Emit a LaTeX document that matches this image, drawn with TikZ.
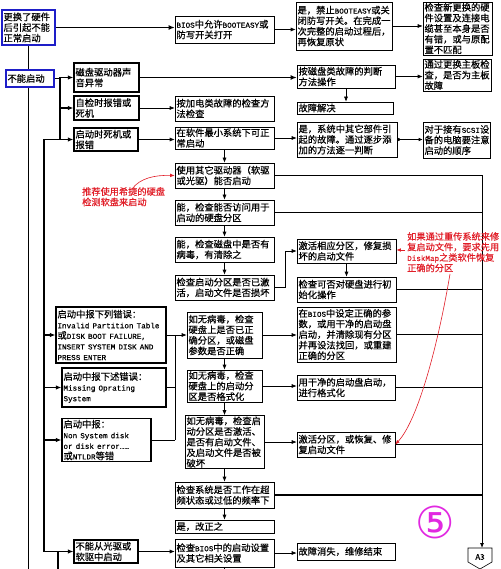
\documentclass[tikz,border=0pt]{standalone}
\usepackage{fontspec}
\setmainfont{Noto Sans CJK SC}[FakeBold=0.4]
\newfontfamily\hwf{Liberation Mono}[FakeBold=0.3]
\newfontfamily\djv{DejaVu Sans}
\usetikzlibrary{arrows.meta,calc}
\newcommand\lat[1]{{\hwf\fontsize{7.6}{10.6}\selectfont #1}}
\definecolor{bluebox}{RGB}{30,30,200}
\definecolor{annored}{RGB}{225,30,40}
\definecolor{mag}{RGB}{225,40,225}
\tikzset{
 box/.style={draw=black, line width=0.6pt, inner xsep=1.5pt, inner ysep=1pt, align=left, font=\fontsize{9.3}{10.6}\selectfont},
 lbox/.style={line width=1.2pt},
 bbox/.style={draw=bluebox, line width=1.6pt},
 conn/.style={line width=0.6pt},
 arr/.style={conn, -{Latex[length=5pt,width=4pt]}},
 bus/.style={line width=1.2pt},
 busarr/.style={bus, -{Latex[length=5.5pt,width=4.5pt]}},
 thickarr/.style={line width=1.6pt, -{Latex[length=6pt,width=5pt]}},
 errconn/.style={line width=0.9pt},
 note/.style={anchor=north west, text=annored, align=left, font=\fontsize{9.2}{10.5}\selectfont, inner sep=0pt},
 redarr/.style={draw=annored, line width=0.6pt, -{Latex[length=4.5pt,width=3.5pt]}},
}
\newcommand\bx[7][]{%
 \pgfmathsetmacro\myBW{#5-#3}%
 \pgfmathsetmacro\myBH{#6-#4}%
 \pgfmathsetmacro\myTW{#5-#3-3}%
 \node[box,#1,minimum width=\myBW pt,minimum height=\myBH pt,text width=\myTW pt] (#2) at ({(#3+#5)/2},{(#4+#6)/2}) {#7};}
\begin{document}
\begin{tikzpicture}[x=1pt,y=-1pt]
\useasboundingbox (0,0) rectangle (500,569);
\fill[white] (0,0) rectangle (500,569);
% boxes
\bx[bbox]{b1}{2}{10}{55}{45}{更换了硬件\\后引起不能\\正常启动}
\bx{bios}{175}{16}{274}{43}{\lat{BIOS}中允许\lat{BOOTEASY}或\\防写开关打开}
\bx{b3}{296}{2}{392}{50}{是，禁止\lat{BOOTEASY}或关\\闭防写开关。在完成一\\次完整的启动过程后，\\再恢复原状}
\bx{b4}{423}{2}{492}{55}{检查新更换的硬\\件设置及连接电\\缆甚至本身是否\\有错，或与原配\\置不匹配}
\bx[bbox]{nq}{6}{70}{54}{87}{不能启动}
\bx[lbox]{disk}{74}{63}{139}{92}{磁盘驱动器声\\音异常}
\bx{dm}{297}{65}{395}{88}{按磁盘类故障的判断\\方法操作}
\bx{mb}{423}{60}{491}{90}{通过更换主板检\\查，是否为主板\\故障}
\bx{fs}{297}{102}{393}{114}{故障解决}
\bx[lbox]{post}{74}{96}{139}{120}{自检时报错或\\死机}
\bx{pw}{175}{96}{274}{121}{按加电类故障的检查方\\法检查}
\bx[lbox]{hang}{74}{128}{138}{151}{启动时死机或\\报错}
\bx{sm}{175}{127}{274}{149}{在软件最小系统下可正\\常启动}
\bx{ot}{297}{122}{397}{157}{是，系统中其它部件引\\起的故障。通过逐步添\\加的方法逐一判断}
\bx{scsi}{423}{122}{490}{158}{对于接有\lat{SCSI}设\\备的电脑要注意\\启动的顺序}
\bx{od}{175}{163}{274}{188}{使用其它驱动器（软驱\\或光驱）能否启动}
\bx{ac}{175}{200}{274}{225}{能，检查能否访问用于\\启动的硬盘分区}
\bx{vir}{175}{237}{274}{262}{能，检查磁盘中是否有\\病毒，有清除之}
\bx{act}{175}{275}{274}{300}{检查启动分区是否已激\\活，启动文件是否损坏}
\bx{ra}{297}{239}{396}{263}{激活相应分区，修复损\\坏的启动文件}
\bx{init}{297}{277}{396}{302}{检查可否对硬盘进行初\\始化操作}
\bx[lbox]{err1}{56}{307}{166}{363}{启动中报下列错误：\\\lat{Invalid Partition Table}\\或\lat{DISK BOOT FAILURE,}\\\lat{INSERT SYSTEM DISK AND}\\\lat{PRESS ENTER}}
\bx{v1}{187}{312}{262}{358}{如无病毒，检查\\硬盘上是否已正\\确分区，或磁盘\\参数是否正确}
\bx{bs}{297}{307}{396}{362}{在\lat{BIOS}中设定正确的参\\数，或用干净的启动盘\\启动，并清除现有分区\\并再设法找回，或重建\\正确的分区}
\bx[lbox]{err2}{62}{368}{166}{407}{启动中报下述错误：\\\lat{Missing Oprating}\\\lat{System}}
\bx{v2}{187}{370}{262}{402}{如无病毒，检查\\硬盘上的启动分\\区是否格式化}
\bx{cf}{297}{375}{395}{400}{用干净的启动盘启动，\\进行格式化}
\bx[lbox]{err3}{62}{420}{151}{460}{启动中报：\\\lat{Non System disk}\\\lat{or disk error……}\\或\lat{NTLDR}等错}
\bx{v3}{185}{417}{264}{467}{如无病毒，检查启\\动分区是否激活、\\是否有启动文件、\\及启动文件是否被\\破坏}
\bx{af}{297}{432}{395}{457}{激活分区，或恢复、修\\复启动文件}
\bx{oc}{175}{482}{274}{508}{检查系统是否工作在超\\频状态或过低的频率下}
\bx{fix}{175}{520}{274}{533}{是，改正之}
\bx[lbox]{nocd}{74}{540}{138}{563}{不能从光驱或\\软驱中启动}
\bx{bios2}{175}{539}{274}{567}{检查\lat{BIOS}中的启动设置\\及其它相关设置}
\bx{fin}{297}{543}{395}{560}{故障消失，维修结束}
% off-page connector
\draw[line width=0.6pt] (468,548) -- (492,548) -- (492,562) -- (480,569) -- (468,562) -- cycle;
\node[font=\fontsize{8}{9}\selectfont, inner sep=0pt] (a3) at (480,557) {A3};
% coordinates
\coordinate (bot) at (0,569);
\coordinate (xa) at (60,0);
\coordinate (xb) at (44,0);
\coordinate (xd) at (58,0);
\coordinate (xc) at (175,0);
\coordinate (rb) at (482,0);
\coordinate (a3top) at (482,548);
% left buses
\draw[bus] (b1.south) -- (b1.south |- nq.north);
\draw[bus] (b1.south |- nq.south) -- (b1.south |- bot);
\draw[bus] (nq.east) -- (nq.east -| xa);
\draw[bus] (xa |- disk.west) -- (xa |- hang.west);
\draw[busarr] (xa |- disk.west) -- (disk.west);
\draw[busarr] (xa |- post.west) -- (post.west);
\draw[busarr] (xb |- hang.west) -- (hang.west);
\draw[bus] (xb |- hang.west) -- (xb |- nocd.west);
\draw[busarr] (xb |- err1.west) -- (err1.west);
\draw[busarr] (xb |- err2.west) -- (err2.west);
\draw[busarr] (xb |- err3.west) -- (err3.west);
\draw[busarr] (xb |- nocd.west) -- (nocd.west);
\draw[bus] (xd |- nocd.west) -- (xd |- bot);
% top rows
\draw[thickarr] (b1.east) -- (b1.east -| bios.west);
\draw[arr] (bios.east) -- (bios.east -| b3.west);
\draw[arr] (b3.east) -- (b3.east -| b4.west);
\draw[thickarr] (disk.east) -- (disk.east -| dm.west);
\draw[arr] (dm.east) -- (dm.east -| mb.west);
\draw[arr] (dm.south) -- (dm.south |- fs.north);
\draw[arr] (post.east) -- (post.east -| pw.west);
\draw[arr] (hang.east) -- (hang.east -| sm.west);
\draw[arr] (sm.east) -- (sm.east -| ot.west);
\draw[conn, {Circle[length=3pt]}-{Latex[length=4pt,width=3.5pt]}] (ot.east) -- (ot.east -| scsi.west);
% main chain
\draw[arr] (sm.south) -- (od.north);
\draw[arr] (od.south) -- (ac.north);
\draw[arr] (ac.south) -- (vir.north);
\draw[arr] (vir.south) -- (act.north);
\draw[arr] (act.east) -- ++(11,0) |- (ra.west);
\draw[arr] (ra.south) -- (init.north);
\draw[errconn] (err1.east) -- (err1.east -| xc);
\draw[errconn] (err2.east) -- (err2.east -| xc);
\draw[errconn] (err3.east) -- (err3.east -| xc);
\draw[errconn] (xc |- err1.east) -- (xc |- err3.east);
\draw[arr] (xc |- err1.east) -- (v1.west);
\draw[arr] (v1.east) -- (v1.east -| bs.west);
\draw[arr] (v1.south) -- (v2.north);
\draw[arr] (v2.east) -- (v2.east -| cf.west);
\draw[arr] (v2.south) -- (v3.north);
\draw[arr] (v3.east) -- (v3.east -| af.west);
\draw[arr] (v3.south) -- (v3.south |- oc.north);
\draw[arr] (oc.south) -- (fix.north);
\draw[arr] (nocd.east) -- (nocd.east -| bios2.west);
\draw[arr] (bios2.east) -- (bios2.east -| fin.west);
\draw[conn] (bios2.south) -- (bios2.south |- bot);
% right bus
\draw[conn] (od.east) -- (od.east -| rb);
\draw[conn] (ac.east) -- (ac.east -| rb);
\draw[conn] (init.east) -- (init.east -| rb);
\draw[conn] (bs.east) -- (bs.east -| rb);
\draw[conn] (cf.east) -- (cf.east -| rb);
\draw[conn] (af.east) -- (af.east -| rb);
\draw[line width=1.4pt] (oc.east) -- (oc.east -| rb);
\draw[arr, line width=0.8pt] (od.east -| rb) -- (a3top);
% annotations
\node[note] (note1) at (82,187) {推荐使用希捷的硬盘\\检测软盘来启动};
\coordinate (n1s) at (132,189);
\draw[redarr] (n1s) .. controls (140,178) and (155,175) .. (od.west);
\node[note] (note2) at (407,232) {如果通过重传系统来修\\复启动文件，要求先用\\\lat{DiskMap}之类软件恢复\\正确的分区};
\coordinate (n2a) at (405,250);
\draw[redarr] (n2a) -- (ra.east |- n2a);
\coordinate (n2b) at (450,274);
\draw[redarr] (n2b) .. controls (438,345) and (418,420) .. (af.east);
\node[text=mag, font=\djv\fontsize{44}{46}\selectfont, inner sep=0pt] (five) at (435,522) {⑤};
\end{tikzpicture}
\end{document}
